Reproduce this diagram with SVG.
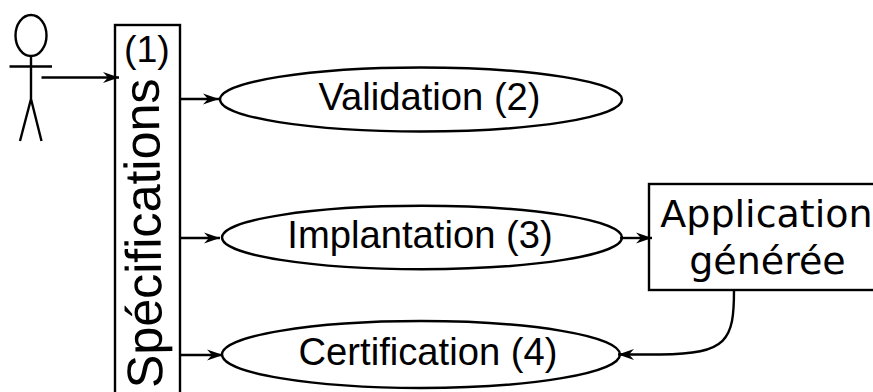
<svg xmlns="http://www.w3.org/2000/svg" width="873" height="392" viewBox="0 0 873 392">
<style>
.s{fill:none;stroke:#000;stroke-width:2.4}
.n{fill:#fff;stroke:#000;stroke-width:2.4}
.t{font-family:"Liberation Sans",Arial,sans-serif;fill:#000}
.d{font-family:"DejaVu Sans",sans-serif;font-size:38px;fill:#000;text-anchor:middle}
.e{font-size:38.2px;text-anchor:middle}
</style>
<defs>
<marker id="a" markerUnits="userSpaceOnUse" markerWidth="18" markerHeight="12" refX="16" refY="6" orient="auto-start-reverse">
<path d="M0,0.5 L16,6 L0,11.5 L5,6 Z" fill="#000"/>
</marker>
</defs>
<g id="actor" class="s">
<ellipse cx="31" cy="35.500" rx="15.500" ry="20.500"/>
<path d="M31,56 V99 M9.500,66.500 H52 M31,99 L20,141 M31,99 L41.500,141"/>
</g>
<g id="specifications">
<rect class="n" x="115" y="25" width="65" height="380"/>
<text class="t" x="162.500" y="388" font-size="50.2" transform="rotate(-90.7 162.500 388)">Spécifications</text>
<text class="t" x="124" y="62" font-size="37.500">(1)</text>
</g>
<g id="validation">
<ellipse class="n" cx="421" cy="99.500" rx="201" ry="32"/>
<text class="t e" x="429.500" y="110">Validation (2)</text>
</g>
<g id="implantation">
<ellipse class="n" cx="422" cy="237.500" rx="200" ry="31.700"/>
<text class="t e" x="420" y="248">Implantation (3)</text>
</g>
<g id="certification">
<ellipse class="n" cx="421" cy="354.500" rx="199" ry="33.500"/>
<text class="t e" x="428" y="365">Certification (4)</text>
</g>
<g id="application">
<rect class="n" x="649" y="184" width="240" height="106"/>
<text class="d" x="766.500" y="227">Application</text>
<text class="d" x="767.500" y="274">générée</text>
</g>
<g id="connectors" class="s">
<path d="M41.500,77.500 H119" marker-end="url(#a)"/>
<path d="M180,99 H219" marker-end="url(#a)"/>
<path d="M180,238 H220" marker-end="url(#a)"/>
<path d="M180,355 H223" marker-end="url(#a)"/>
<path d="M620,238 H652" marker-end="url(#a)"/>
<path d="M734,290 C734,340 728,354 660,354.500 L618,354.500" marker-end="url(#a)"/>
</g>
</svg>
